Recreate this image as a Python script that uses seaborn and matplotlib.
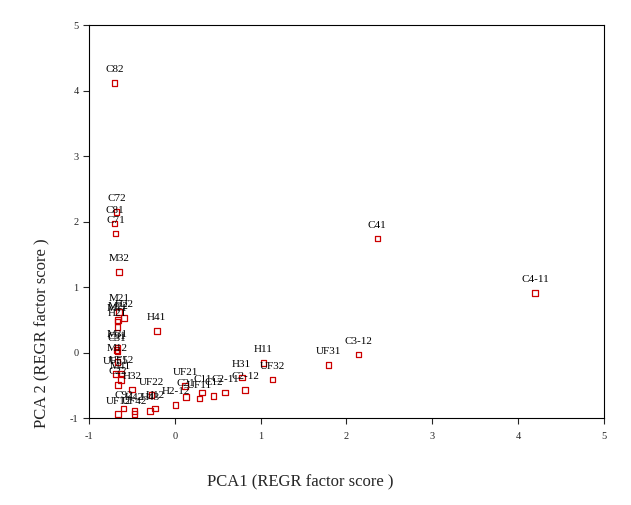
import matplotlib
matplotlib.use("Agg")
import matplotlib.pyplot as plt
import seaborn as sns
import pandas as pd

# PCA scores
labels = ["C82", "C72", "C81", "C71", "M32",
          "M21", "H22", "M22", "M11", "H21",
          "M31", "C91", "C31", "M12",
          "UF51", "UF52", "M41", "C22", "H32",
          "C92", "UF12", "UF42", "H42", "H43",
          "H12", "H2-12", "H41",
          "UF22", "UF21", "C21", "C11", "UF11", "C12",
          "C2-11", "C2-12", "H31",
          "H11", "UF32", "UF31", "C3-12", "C41", "C4-11"]
pca1 = [-0.70, -0.68, -0.70, -0.69, -0.65,
        -0.65, -0.59, -0.66, -0.67, -0.67,
        -0.67, -0.68, -0.67, -0.67,
        -0.69, -0.62, -0.63, -0.66, -0.50,
        -0.60, -0.66, -0.47, -0.47, -0.29,
        -0.23, 0.01, -0.21,
        -0.27, 0.12, 0.13, 0.32, 0.29, 0.45,
        0.585, 0.82, 0.78,
        1.035, 1.14, 1.79, 2.14, 2.36, 4.20]
pca2 = [4.12, 2.15, 1.97, 1.82, 1.23,
        0.62, 0.53, 0.50, 0.475, 0.39,
        0.08, 0.04, 0.015, -0.14,
        -0.33, -0.32, -0.42, -0.49, -0.56,
        -0.85, -0.94, -0.94, -0.89, -0.89,
        -0.85, -0.80, 0.33,
        -0.65, -0.51, -0.68, -0.61, -0.70, -0.66,
        -0.61, -0.57, -0.38,
        -0.16, -0.41, -0.19, -0.025, 1.74, 0.91]

df = pd.DataFrame({"label": labels, "PCA1": pca1, "PCA2": pca2})

sns.set_style("white")
plt.rcParams["font.family"] = ["Liberation Serif", "DejaVu Serif"]
plt.rcParams["axes.unicode_minus"] = False

fig = plt.figure(figsize=(6.31, 5.05), dpi=100)
ax = fig.add_axes([0.141, 0.172, 0.816, 0.778])

sns.scatterplot(data=df, x="PCA1", y="PCA2", ax=ax, marker="s", s=16,
                facecolor="none", edgecolor="#cc0000", linewidth=0.9)

for _, r in df.iterrows():
    ax.annotate(r["label"], (r["PCA1"], r["PCA2"]), xytext=(0, 9.5),
                textcoords="offset points", ha="center", va="center",
                fontsize=8, color="black")

ax.set_xlim(-1, 5)
ax.set_ylim(-1, 5)
ax.set_xticks(range(-1, 6))
ax.set_yticks(range(-1, 6))
ax.tick_params(axis="both", direction="out", length=4, width=0.8,
               labelsize=7.5, bottom=True, left=True, top=False, right=False)
ax.tick_params(axis="x", pad=6)
for sp in ax.spines.values():
    sp.set_color("black")
    sp.set_linewidth(0.8)
ax.set_xlabel("")
ax.set_ylabel("")

fig.text(300 / 631, 1 - 482 / 505, "PCA1 (REGR factor score )",
         ha="center", va="center", fontsize=12)
fig.text(42 / 631, 1 - 333 / 505, "PCA 2 (REGR factor score )",
         ha="center", va="center", rotation=90, fontsize=12)

fig.savefig("out.png", dpi=100)
